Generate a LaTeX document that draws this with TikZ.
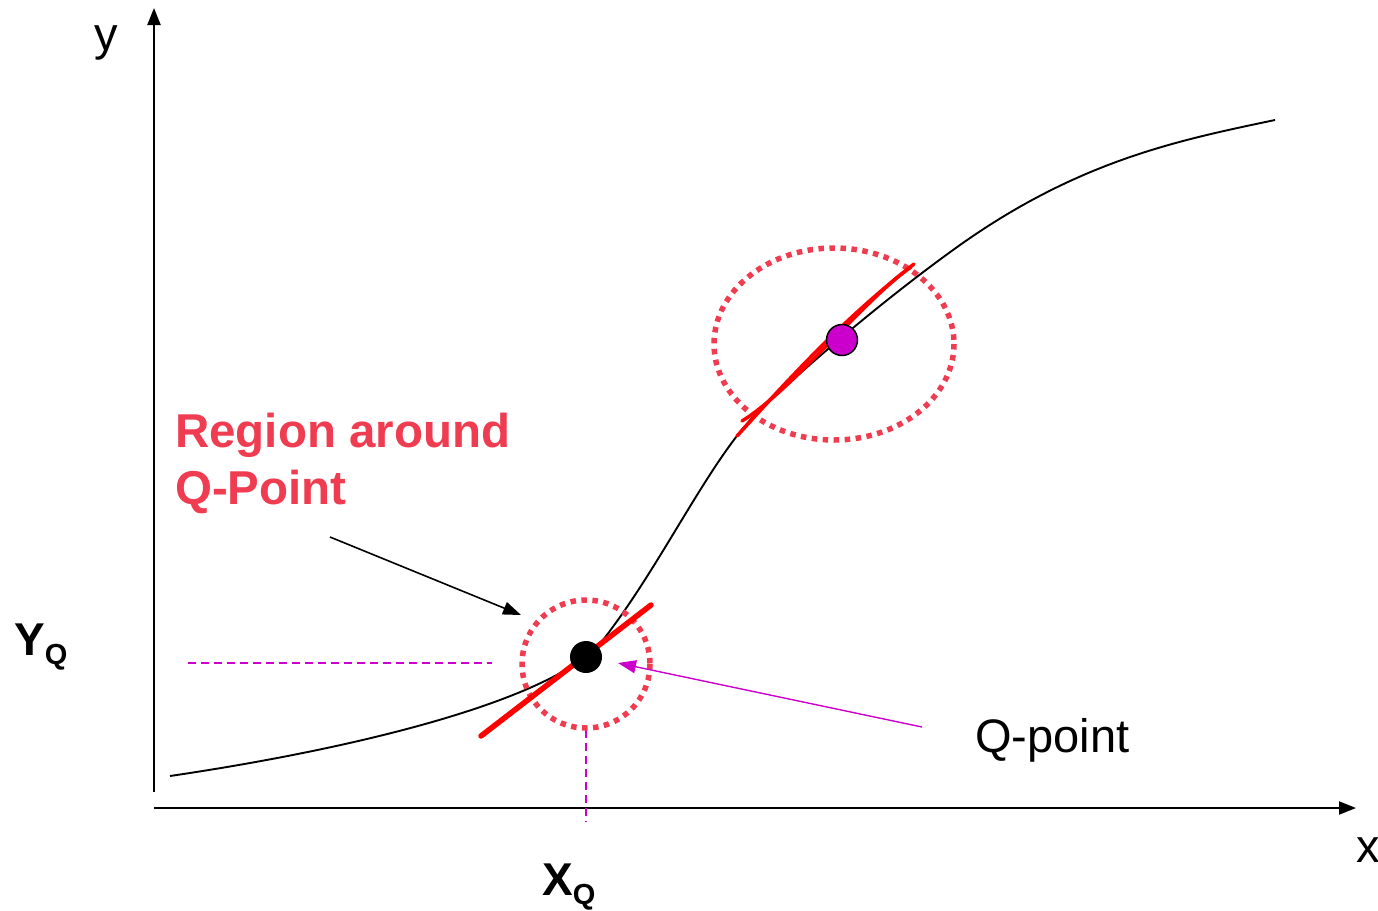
\documentclass[tikz,border=0pt]{standalone}
\usepackage{fontspec}
\setmainfont{Liberation Sans}
\usetikzlibrary{arrows.meta}
\definecolor{regred}{RGB}{240,60,80}
\definecolor{qmag}{RGB}{204,0,204}
\begin{document}
\begin{tikzpicture}[x=1pt,y=-1pt,
  axis/.style={line width=2.2pt,-{Triangle[length=17pt,width=13pt]}},
  tang/.style={red,line width=5.5pt,line cap=round},
  tangthin/.style={red,line width=3.5pt,line cap=round},
  dotring/.style={regred,line width=5.5pt,dash pattern=on 5.5pt off 5.5pt},
  guide/.style={qmag,line width=1.3pt,dash pattern=on 8pt off 5pt},
  lbl/.style={font=\fontsize{47}{56}\selectfont,inner sep=0pt,anchor=base west},
  callout/.style={line width=1.6pt,-{Triangle[length=18pt,width=13pt]}}]
\useasboundingbox (0,0) rectangle (1378,910);
% axes
\coordinate (O) at (154,808);
\coordinate (ytop) at (154,8);
\coordinate (xend) at (1356,808);
\coordinate (ybot) at (154,792);
\draw[axis] (ybot) -- (ytop);
\draw[axis] (O) -- (xend);
\node[lbl] (ylab) at (94,50) {y};
\node[lbl] (xlab) at (1356,862) {x};
% curve
\coordinate (k0) at (170,776);
\coordinate (k1) at (603,640);
\coordinate (k2) at (760,410);
\coordinate (k3) at (960,245);
\coordinate (k4) at (1275,120);
\draw[line width=1.9pt] (k0) .. controls (380,745) and (560,695) .. (k1)
  .. controls (663,563) and (712,455) .. (k2)
  .. controls (800,372) and (880,302) .. (k3)
  .. controls (1080,160) and (1180,140) .. (k4);
% guides
\coordinate (yq0) at (188,663);
\coordinate (yq1) at (492,663);
\coordinate (xq0) at (586,730);
\coordinate (xq1) at (586,822);
\draw[guide] (yq0) -- (yq1);
\draw[guide] (xq0) -- (xq1);
% dotted rings
\coordinate (c1) at (586,664);
\coordinate (c2) at (834,344);
\draw[dotring] (c1) ellipse [x radius=64, y radius=64];
\draw[dotring] (c2) ellipse [x radius=120, y radius=96];
% tangents
\coordinate (t1a) at (481,736);
\coordinate (t1b) at (651,605);
\draw[tang] (t1a) -- (t1b);
\coordinate (t2a) at (737,436);
\coordinate (t2b) at (914,264);
\coordinate (t2c) at (742,421);
\coordinate (t2d) at (911,267);
\draw[tangthin] (t2a) .. controls (795,372) and (845,318) .. (t2b);
\draw[tangthin] (t2c) .. controls (790,392) and (868,296) .. (t2d);
% points
\node[circle,fill=black,minimum size=32pt,inner sep=0pt] (Q) at (586,657) {};
\node[circle,fill=qmag,draw=black,line width=1.5pt,minimum size=31pt,inner sep=0pt] (Q2) at (842,340) {};
% labels
\node[lbl,text=regred,font=\bfseries\fontsize{47.5}{57}\selectfont,anchor=north west,align=left] (reg) at (175,413) {Region around\\Q-Point};
\coordinate (a1s) at (330,537);
\coordinate (a1e) at (521,615);
\draw[callout] (a1s) -- (a1e);
\node[lbl] (qp) at (975,752) {Q-point};
\coordinate (a2s) at (922,727);
\coordinate (a2e) at (618,663);
\draw[callout,qmag,line width=1.4pt] (a2s) -- (a2e);
\node[lbl,font=\bfseries\fontsize{46}{50}\selectfont] (yq) at (14,655) {Y\raisebox{-9pt}{\fontsize{29}{30}\selectfont Q}};
\node[lbl,font=\bfseries\fontsize{46}{50}\selectfont] (xq) at (542,895) {X\raisebox{-9pt}{\fontsize{29}{30}\selectfont Q}};
\end{tikzpicture}
\end{document}
